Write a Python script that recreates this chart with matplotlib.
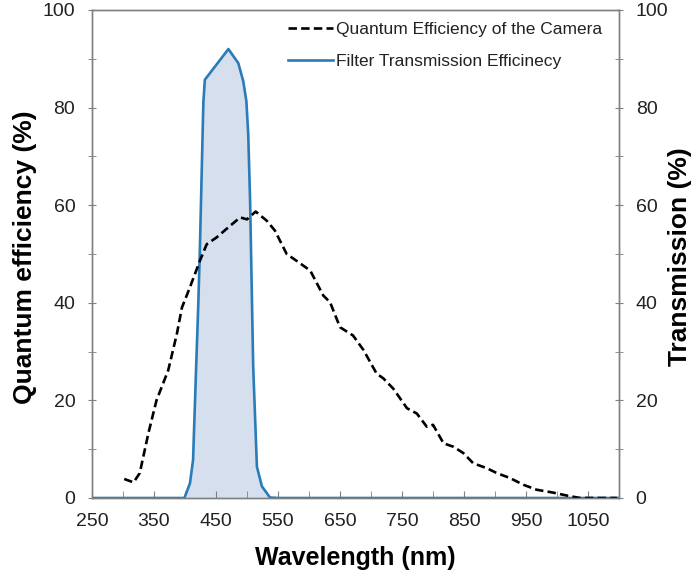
import matplotlib
matplotlib.use("Agg")
import matplotlib.pyplot as plt
from matplotlib.ticker import MultipleLocator, FixedLocator

plt.rcParams['font.family'] = ['Liberation Sans', 'DejaVu Sans']

# Quantum efficiency of the camera (%)
qe_wl = [302, 317, 327, 341, 354, 373, 387, 395, 408, 424, 435, 451, 473, 489,
         500, 514, 532, 545, 564, 580, 602, 623, 634, 650, 671, 688, 709, 720,
         736, 758, 774, 790, 800, 817, 833, 849, 865, 887, 903, 924, 946, 967,
         994, 1016, 1037, 1074, 1097]
qe_val = [3.9, 3.2, 5.1, 13.3, 20, 26.2, 33.7, 39, 43.2, 48.6, 52, 53.4, 55.8, 57.5,
          57.1, 58.7, 56.8, 54.8, 50, 48.6, 46.6, 41.5, 40.1, 35, 33.3, 30.3, 25.5, 24.5,
          22.4, 18.4, 17.3, 14.6, 15, 11.2, 10.5, 9.2, 7.1, 6.1, 5.1, 4.1, 2.7, 1.7,
          1.1, 0.5, 0, 0, 0]

# Filter transmission efficiency (%)
flt_wl = [250, 399, 408, 413, 418, 421.5, 424, 429.6, 432, 470, 486, 494, 499,
          502, 505, 510, 516, 524, 537, 550, 1100]
flt_val = [0, 0, 3, 7.8, 26.9, 40, 51, 81, 85.7, 92, 89.1, 85.4, 81.3,
           74.5, 60.9, 26.9, 6.4, 2.4, 0.1, 0, 0]

x_ticks = [250, 350, 450, 550, 650, 750, 850, 950, 1050]
y_ticks = [0, 20, 40, 60, 80, 100]

labels = ["Quantum Efficiency of the Camera", "Filter Transmission Efficinecy"]

line_blue = '#2a7cb9'
fill_col = '#d5dfee'
spine_col = '#808080'

fig = plt.figure(figsize=(6.94, 5.81), dpi=100)
ax = fig.add_axes([92/694, 1-498/581, (619-92)/694, (498-10)/581])

ax.fill_between(flt_wl, flt_val, 0, color=fill_col, lw=0, zorder=1)
l1, = ax.plot(qe_wl, qe_val, color='black', lw=1.9, linestyle=(0, (3.2, 1.6)), zorder=3)
l2, = ax.plot(flt_wl, flt_val, color=line_blue, lw=1.9, zorder=2)

ax.set_xlim(250, 1100)
ax.set_ylim(0, 100)
ax.xaxis.set_major_locator(FixedLocator(x_ticks))
ax.xaxis.set_minor_locator(MultipleLocator(50))
ax.yaxis.set_major_locator(FixedLocator(y_ticks))
ax.yaxis.set_minor_locator(MultipleLocator(10))

ax2 = ax.twinx()
ax2.set_ylim(0, 100)
ax2.yaxis.set_major_locator(FixedLocator(y_ticks))
ax2.yaxis.set_minor_locator(MultipleLocator(10))

for a in (ax, ax2):
    for s in a.spines.values():
        s.set_color(spine_col)
        s.set_linewidth(1.0)

ax.tick_params(axis='x', which='both', direction='in', length=5, color=spine_col,
               labelsize=14, pad=11, labelcolor='#222222')
ax.tick_params(axis='y', which='both', direction='inout', length=6, color=spine_col,
               labelsize=14, pad=9, labelcolor='#222222')
ax2.tick_params(axis='y', which='both', direction='inout', length=6, color=spine_col,
                labelsize=14, pad=9, labelcolor='#222222')

ax.set_xlabel("Wavelength (nm)", fontsize=18, fontweight='bold', labelpad=11)
fig.text(25/694, 1 - 257/581, "Quantum efficiency (%)", rotation=90, ha='center',
         va='center', fontsize=19, fontweight='bold')
fig.text(680/694, 1 - 257/581, "Transmission (%)", rotation=90, ha='center', va='center',
         fontsize=19, fontweight='bold')

leg = ax.legend([l1, l2], labels, loc='upper left',
                bbox_to_anchor=((288-92)/527, 1 - 12/488),
                frameon=False, fontsize=12.5, handlelength=2.6, handletextpad=0.15,
                labelspacing=0.95, borderpad=0, borderaxespad=0)
for t in leg.get_texts():
    t.set_color('#222222')

fig.savefig("out.png", dpi=100)
